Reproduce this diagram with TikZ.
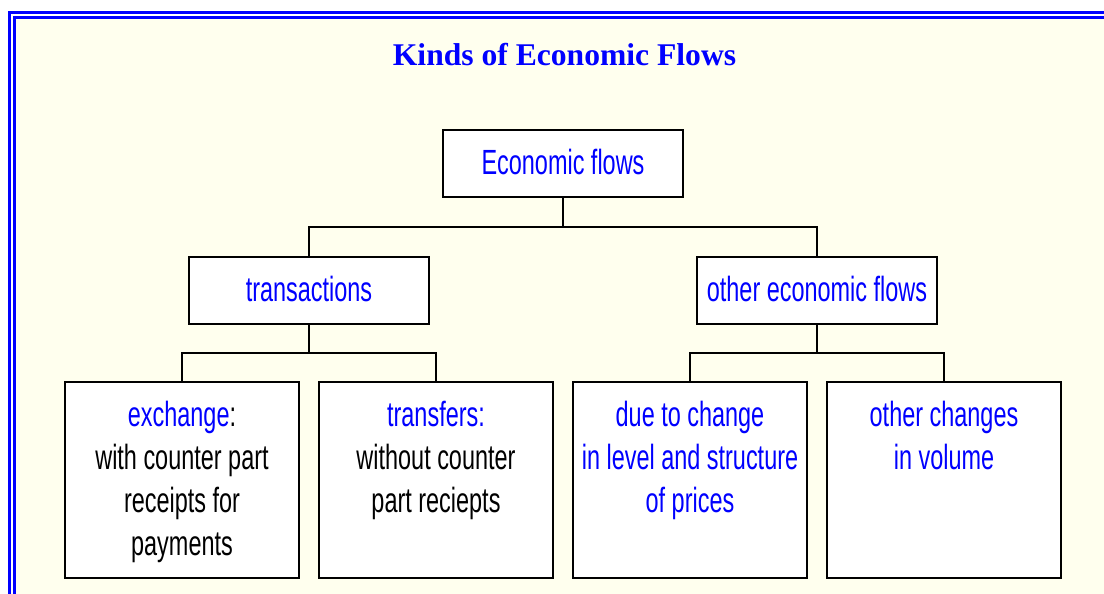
\documentclass[tikz,border=0pt]{standalone}
\usepackage{fontspec}
\newfontfamily\boxfont[FakeStretch=0.67]{Liberation Sans}
\newfontfamily\titlefont{Liberation Serif}
\definecolor{bgyellow}{RGB}{255,255,238}
\definecolor{frameblue}{RGB}{0,0,255}
\definecolor{txtblue}{RGB}{0,0,255}
\tikzset{
  box/.style={draw=black, fill=white, line width=2pt, inner sep=0pt, outer sep=0pt},
  lbl/.style={anchor=base, inner sep=0pt, font=\boxfont\fontsize{35}{42}\selectfont},
  bl/.style={lbl, text=txtblue},
  bk/.style={lbl, text=black},
  conn/.style={draw=black, line width=2pt},
  frame/.style={draw=frameblue, line width=3pt}
}
\begin{document}
\begin{tikzpicture}[x=1pt, y=-1pt]
\useasboundingbox (0,0) rectangle (1104,594);
\clip (0,0) rectangle (1104,594);
\fill[white] (0,0) rectangle (1104,594);
\fill[bgyellow] (16,19) rectangle (1110,600);
\draw[frame] (9.5,12.8) rectangle (1130,630);
\draw[frame] (14.5,17.8) rectangle (1120,620);

\node[anchor=base, inner sep=0pt, text=txtblue, font=\titlefont\bfseries\fontsize{31.6}{38}\selectfont] (title) at (564.5,66) {Kinds of Economic Flows};

% boxes
\node[box, minimum width=240, minimum height=67] (ef) at (563,163.5) {};
\node[box, minimum width=240, minimum height=67] (tr) at (309,290.5) {};
\node[box, minimum width=240, minimum height=67] (oef) at (817,290.5) {};
\node[box, minimum width=234, minimum height=196] (ex) at (182,480) {};
\node[box, minimum width=234, minimum height=196] (tf) at (436,480) {};
\node[box, minimum width=234, minimum height=196] (dc) at (690,480) {};
\node[box, minimum width=234, minimum height=196] (oc) at (944,480) {};

% connectors
\draw[conn] (ef.south) -- ++(0,30) coordinate (j1) -| (tr.north);
\draw[conn] (j1) -| (oef.north);
\draw[conn] (tr.south) -- ++(0,29) coordinate (j2) -| (ex.north);
\draw[conn] (j2) -| (tf.north);
\draw[conn] (oef.south) -- ++(0,29) coordinate (j3) -| (dc.north);
\draw[conn] (j3) -| (oc.north);

% labels
\node[bl] (eft) at (563,174) {Economic flows};
\node[bl] (trt) at (309,301) {transactions};
\node[bl] (oeft) at (817,301) {other economic flows};

\node[bk] (ex1) at (182,426) {{\color{txtblue}exchange}:};
\node[bk] (ex2) at (182,469) {with counter part};
\node[bk] (ex3) at (182,512) {receipts for};
\node[bk] (ex4) at (182,555) {payments};

\node[bl] (tf1) at (436,426) {transfers:};
\node[bk] (tf2) at (436,469) {without counter};
\node[bk] (tf3) at (436,512) {part reciepts};

\node[bl] (dc1) at (690,426) {due to change};
\node[bl] (dc2) at (690,469) {in level and structure};
\node[bl] (dc3) at (690,512) {of prices};

\node[bl] (oc1) at (944,426) {other changes};
\node[bl] (oc2) at (944,469) {in volume};
\end{tikzpicture}
\end{document}
